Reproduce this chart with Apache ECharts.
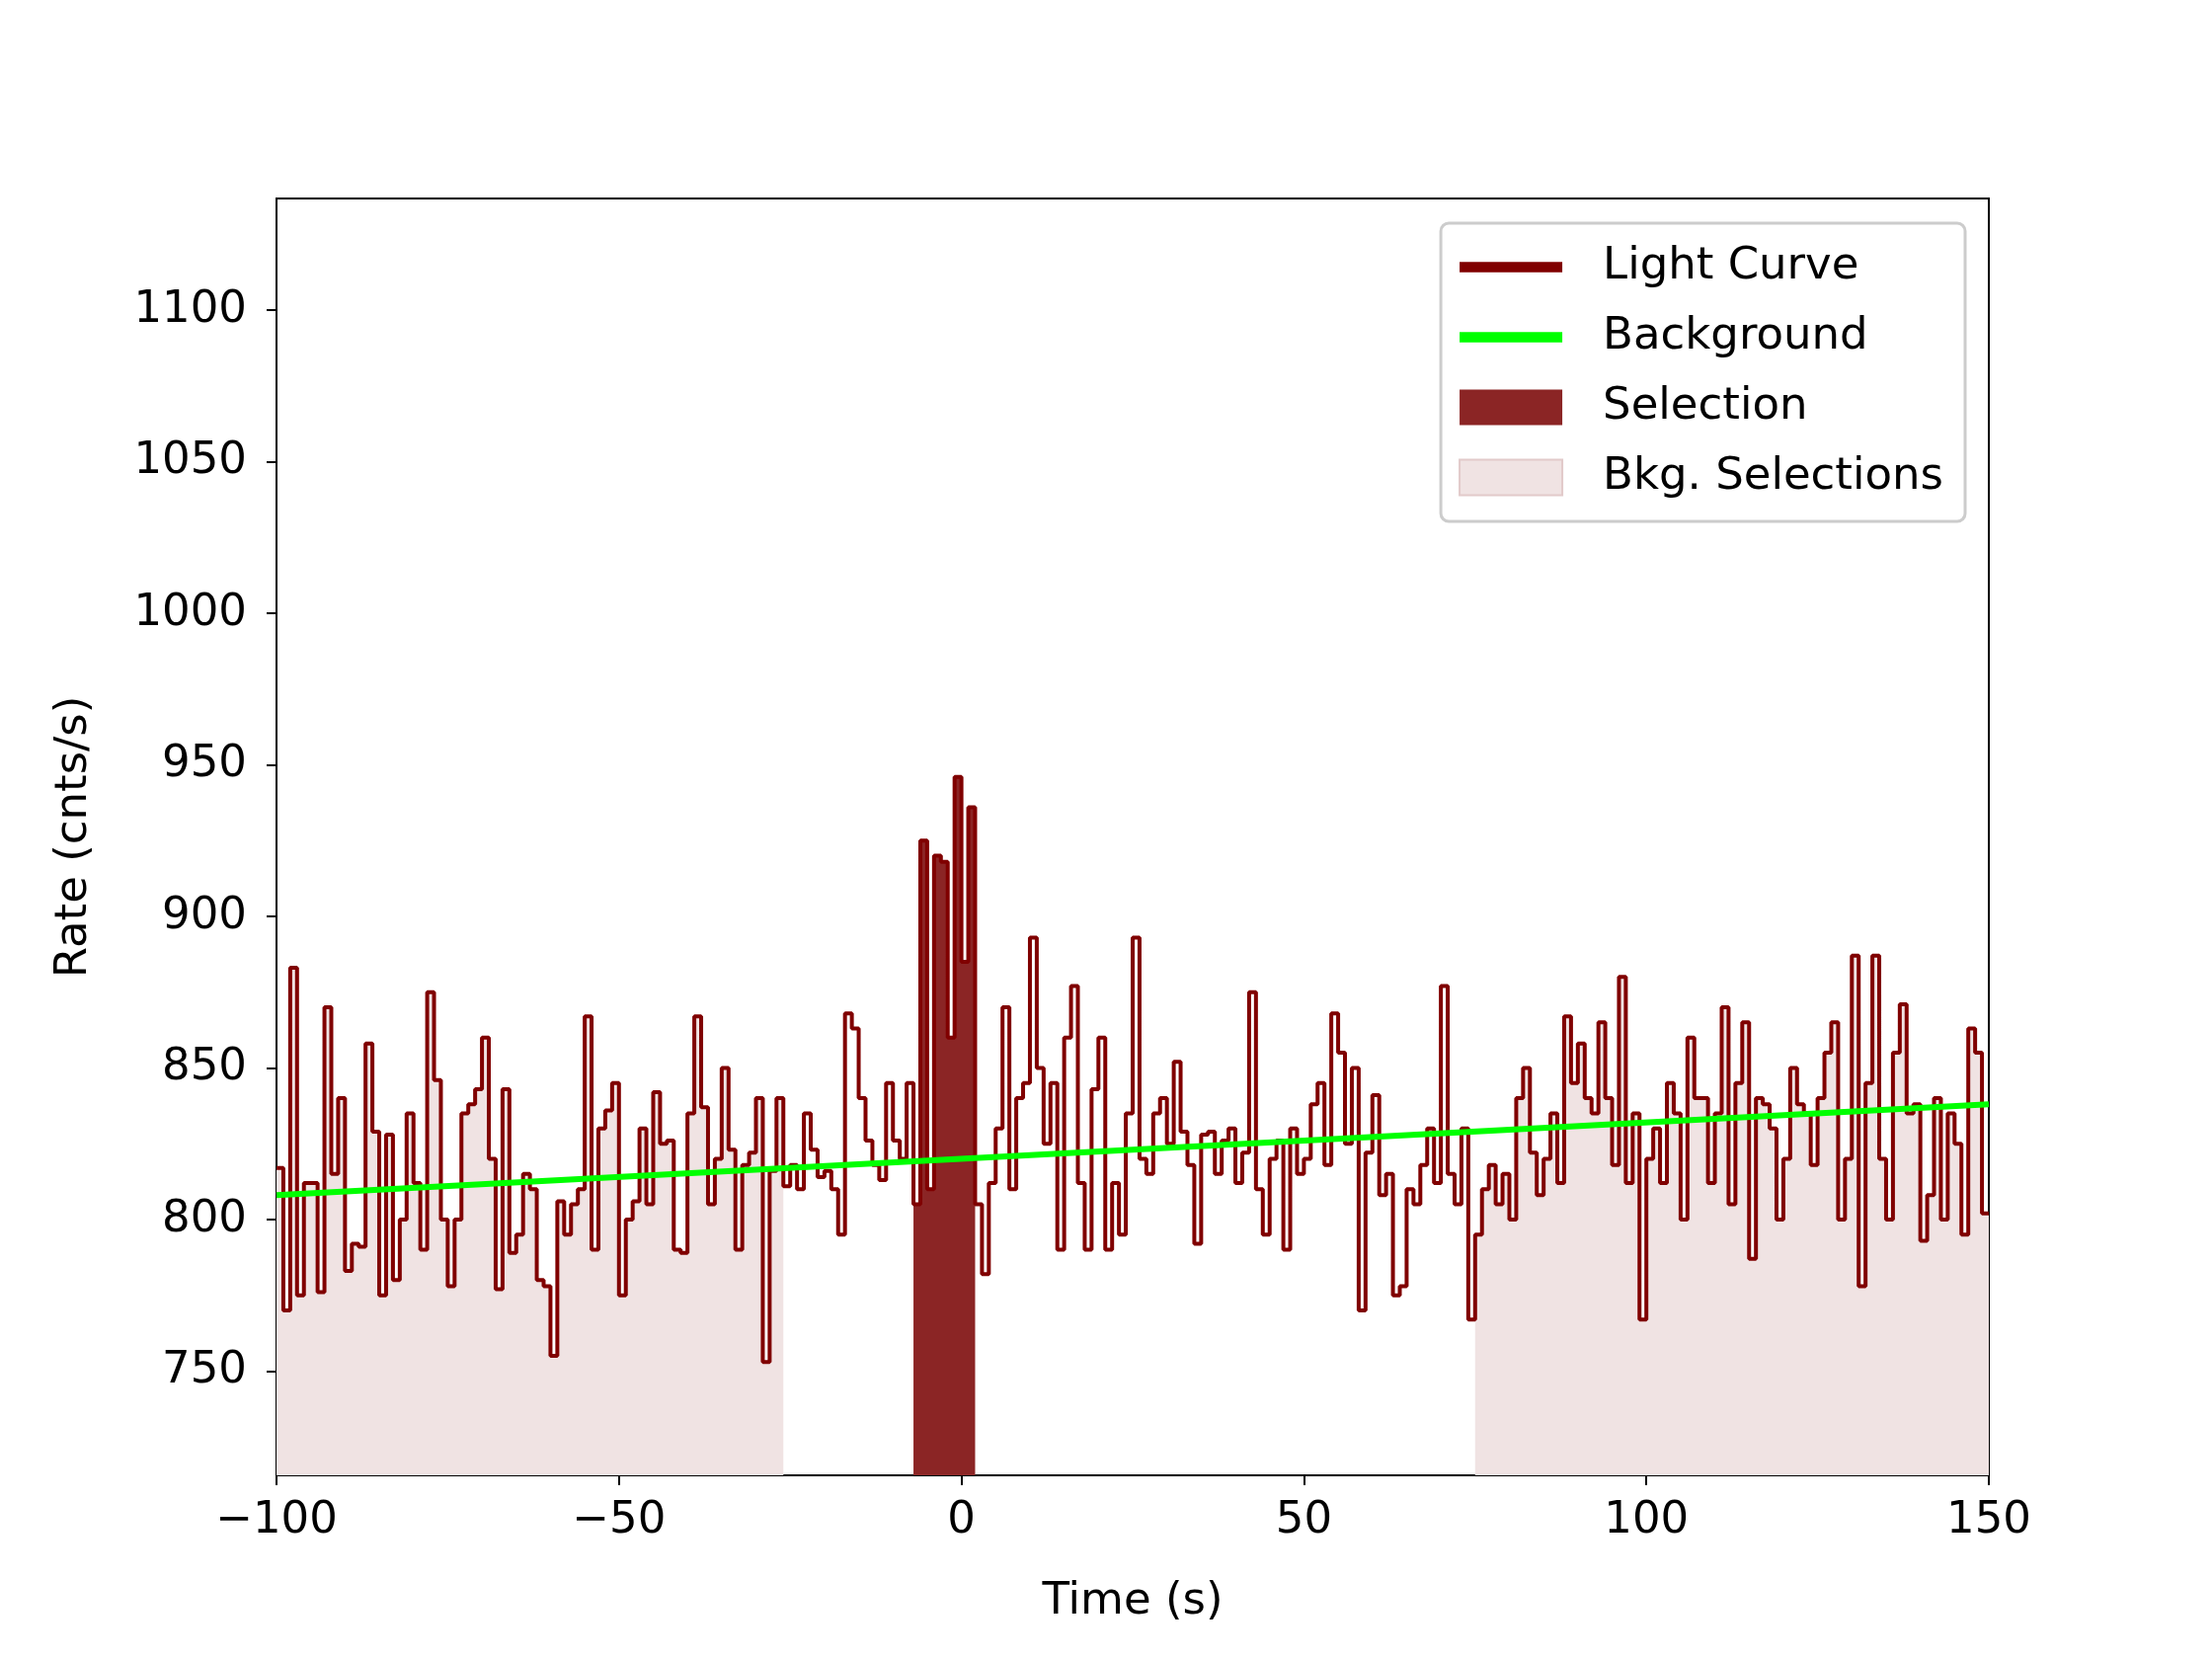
<!DOCTYPE html>
<html>
<head>
<meta charset="utf-8">
<script src="https://cdn.jsdelivr.net/npm/echarts@6/dist/echarts.min.js"></script>
<style>html,body{margin:0;padding:0;background:#fff}#main{width:2240px;height:1680px}</style>
</head>
<body>
<div id="main"></div>
<script>
// light curve: one value per 1 s bin, starting at -100 s
var binStart = -100;
var rates = [
  817, 770, 883, 775, 812, 812, 776, 870, 815, 840,
  783, 792, 791, 858, 829, 775, 828, 780, 800, 835,
  812, 790, 875, 846, 800, 778, 800, 835, 838, 843,
  860, 820, 777, 843, 789, 795, 815, 810, 780, 778,
  755, 806, 795, 805, 810, 867, 790, 830, 836, 845,
  775, 800, 806, 830, 805, 842, 825, 826, 790, 789,
  835, 867, 837, 805, 820, 850, 823, 790, 818, 822,
  840, 753, 816, 840, 811, 818, 810, 835, 823, 814,
  816, 810, 795, 868, 863, 840, 826, 818, 813, 845,
  826, 820, 845, 805, 925, 810, 920, 918, 860, 946,
  885, 936, 805, 782, 812, 830, 870, 810, 840, 845,
  893, 850, 825, 845, 790, 860, 877, 812, 790, 843,
  860, 790, 812, 795, 835, 893, 820, 815, 835, 840,
  825, 852, 829, 818, 792, 828, 829, 815, 826, 830,
  812, 822, 875, 810, 795, 820, 826, 790, 830, 815,
  820, 838, 845, 818, 868, 855, 825, 850, 770, 822,
  841, 808, 815, 775, 778, 810, 805, 818, 830, 812,
  877, 815, 805, 830, 767, 795, 810, 818, 805, 815,
  800, 840, 850, 822, 808, 820, 835, 812, 867, 845,
  858, 840, 835, 865, 840, 818, 880, 812, 835, 767,
  820, 830, 812, 845, 835, 800, 860, 840, 840, 812,
  835, 870, 805, 845, 865, 787, 840, 838, 830, 800,
  820, 850, 838, 835, 818, 840, 855, 865, 800, 820,
  887, 778, 845, 887, 820, 800, 855, 871, 835, 838,
  793, 808, 840, 800, 835, 825, 795, 863, 855, 802
];
var bkgLine = [[-100, 808], [150, 838]];
var selection = [-7, 2];
var bkgRanges = [[-100, -26], [75, 150]];
var yTicks = [750, 800, 850, 900, 950, 1000, 1050, 1100];

var curve = rates.map(function (v, i) { return [binStart + i, v]; });
curve.push([binStart + rates.length, rates[rates.length - 1]]);

function clip(lo, hi) {
    var out = [];
    curve.forEach(function (p) { if (p[0] >= lo && p[0] <= hi) out.push(p); });
    return out;
}

var chart = echarts.init(document.getElementById('main'));
var font = 'DejaVu Sans';
var fs = 45;
var lineIcon = 'path://M0,0 L10,0 L10,1 L0,1 Z';
var series = [];
bkgRanges.forEach(function (r) {
    series.push({
        name: 'Bkg. Selections', type: 'line', step: 'end', data: clip(r[0], r[1]),
        showSymbol: false, lineStyle: {width: 0}, areaStyle: {color: '#f0e3e3', opacity: 1, origin: 'start'},
        itemStyle: {color: '#f0e3e3', borderColor: '#e2caca', borderWidth: 2}, z: 1
    });
});
series.push({
    name: 'Selection', type: 'line', step: 'end', data: clip(selection[0], selection[1]),
    showSymbol: false, lineStyle: {width: 0}, areaStyle: {color: '#8b2525', opacity: 1, origin: 'start'},
    itemStyle: {color: '#8b2525'}, z: 2
});
series.push({
    name: 'Light Curve', type: 'line', step: 'end', data: curve,
    showSymbol: false, lineStyle: {color: '#800000', width: 4}, itemStyle: {color: '#800000'}, z: 3
});
series.push({
    name: 'Background', type: 'line', data: bkgLine,
    showSymbol: false, lineStyle: {color: '#00ff00', width: 6}, itemStyle: {color: '#00ff00'}, z: 4
});

chart.setOption({
    animation: false,
    grid: {left: 280, right: 226, top: 201, bottom: 186, show: true, borderColor: '#000', borderWidth: 2, backgroundColor: 'transparent'},
    legend: {
        orient: 'vertical', right: 250, top: 226,
        data: [
            {name: 'Light Curve', icon: lineIcon, itemStyle: {color: '#800000'}},
            {name: 'Background', icon: lineIcon, itemStyle: {color: '#00ff00'}},
            {name: 'Selection', icon: 'rect'},
            {name: 'Bkg. Selections', icon: 'rect'}
        ],
        itemWidth: 104, itemHeight: 36, itemGap: 26,
        padding: [22, 22, 22, 18],
        borderColor: '#cccccc', borderWidth: 3, borderRadius: 8,
        textStyle: {fontFamily: font, fontSize: fs, color: '#000', padding: [0, 0, 0, 36]}
    },
    xAxis: {
        type: 'value', min: -100, max: 150, interval: 50,
        name: 'Time (s)', nameLocation: 'middle', nameGap: 106,
        nameTextStyle: {fontFamily: font, fontSize: fs, color: '#000'},
        axisLine: {show: true, onZero: false, lineStyle: {color: '#000', width: 2}},
        axisTick: {show: true, length: 10, lineStyle: {color: '#000', width: 2}},
        axisLabel: {fontFamily: font, fontSize: fs, color: '#000', margin: 24,
            formatter: function (v) { return String(v).replace('-', '\u2212'); }},
        splitLine: {show: false}
    },
    yAxis: {
        type: 'value', min: 715.6, max: 1136.8,
        name: 'Rate (cnts/s)', nameLocation: 'middle', nameGap: 182,
        nameTextStyle: {fontFamily: font, fontSize: fs, color: '#000'},
        axisLine: {show: true, onZero: false, lineStyle: {color: '#000', width: 2}},
        axisTick: {show: true, length: 10, customValues: yTicks, lineStyle: {color: '#000', width: 2}},
        axisLabel: {fontFamily: font, fontSize: fs, color: '#000', margin: 30, customValues: yTicks,
            formatter: function (v) { return String(v); }},
        splitLine: {show: false}
    },
    series: series
});
</script>
</body>
</html>
